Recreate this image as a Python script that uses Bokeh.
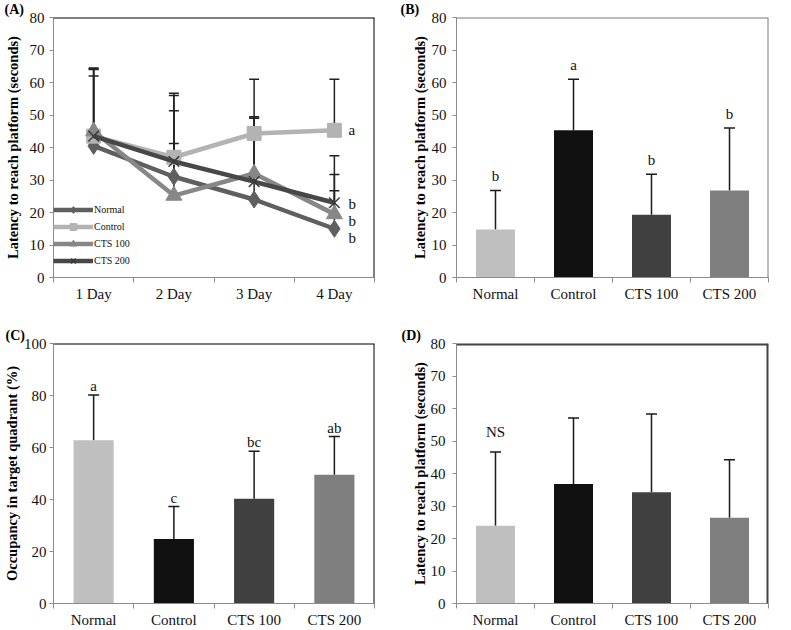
from bokeh.plotting import figure
from bokeh.models import (FixedTicker, Legend, LegendItem, Whisker, TeeHead,
                          ColumnDataSource, Range1d, Span)
from bokeh.layouts import gridplot
from bokeh.core.properties import value
from bokeh.embed import file_html
from bokeh.resources import INLINE

FONT = "Liberation Serif"

# ---------------- data ----------------
days = ["1 Day", "2 Day", "3 Day", "4 Day"]
groups = ["Normal", "Control", "CTS 100", "CTS 200"]

# Panel A: latency per day (mean, upper error-bar end)
a_normal = [40.5, 31.0, 24.0, 15.0]
a_normal_top = [62.0, 51.3, 49.0, 26.7]
a_control = [43.5, 37.0, 44.3, 45.3]
a_control_top = [64.5, 56.7, 61.0, 61.0]
a_cts100 = [45.0, 25.2, 32.0, 19.5]
a_cts100_top = [64.2, 41.2, 49.5, 31.7]
a_cts200 = [43.5, 35.7, 29.5, 23.0]
a_cts200_top = [64.0, 56.0, 49.0, 37.5]
a_sig_text = ["a", "b", "b", "b"]
a_sig_y = [45.3, 22.6, 17.3, 12.2]

# Panel B: latency (probe)
b_mean = [14.8, 45.3, 19.3, 26.8]
b_top = [26.8, 61.0, 31.8, 46.0]
b_sig = ["b", "a", "b", "b"]

# Panel C: occupancy in target quadrant (%)
c_mean = [62.8, 24.8, 40.3, 49.5]
c_top = [80.2, 37.3, 58.6, 64.2]
c_sig = ["a", "c", "bc", "ab"]

# Panel D: latency
d_mean = [23.9, 36.8, 34.2, 26.4]
d_top = [46.6, 57.1, 58.3, 44.2]
d_sig = ["NS", "", "", ""]

line_colors = ["#5f5f5f", "#b3b3b3", "#878787", "#474747"]
bar_colors = ["#bfbfbf", "#111111", "#404040", "#7f7f7f"]

AXIS_GRAY = "#8c8c8c"


def frame_edges(p, xmax, ymax, color, width):
    p.add_layout(Span(location=xmax, dimension="height", line_color=color, line_width=width))
    p.add_layout(Span(location=ymax, dimension="width", line_color=color, line_width=width))


def panel_title(p, text, offset):
    t = p.title
    t.text = text
    t.align = "left"
    t.offset = offset
    t.standoff = 0
    t.text_font = FONT
    t.text_font_size = "14px"
    t.text_font_style = "bold"
    t.text_color = "#000000"
    t.vertical_align = "middle"


def style(p, ylabel, ymax, ystep, labels, frame_color, frame_width, label_standoff, tick_standoff):
    n = len(labels)
    centers = [i + 0.5 for i in range(n)]
    p.xgrid.visible = False
    p.ygrid.visible = False
    p.outline_line_color = None
    p.background_fill_color = "white"
    p.border_fill_color = "white"
    xa = p.xaxis[0]
    xa.ticker = FixedTicker(ticks=centers, minor_ticks=list(range(n + 1)))
    xa.major_label_overrides = {c: l for c, l in zip(centers, labels)}
    xa.major_tick_out = 0
    xa.major_tick_in = 0
    xa.minor_tick_out = 5
    xa.minor_tick_in = 0
    xa.minor_tick_line_color = AXIS_GRAY
    xa.axis_line_color = AXIS_GRAY
    xa.major_label_text_font = FONT
    xa.major_label_text_font_size = "15px"
    xa.major_label_text_color = "#111111"
    xa.major_label_standoff = 3
    ya = p.yaxis[0]
    ya.ticker = FixedTicker(ticks=list(range(0, ymax + 1, ystep)), minor_ticks=[])
    ya.major_tick_out = 4
    ya.major_tick_in = 0
    ya.minor_tick_out = 0
    ya.minor_tick_in = 0
    ya.major_tick_line_color = AXIS_GRAY
    ya.axis_line_color = AXIS_GRAY
    ya.major_label_text_font = FONT
    ya.major_label_text_font_size = "15px"
    ya.major_label_text_color = "#111111"
    ya.major_label_standoff = tick_standoff
    ya.axis_label = ylabel
    ya.axis_label_text_font = FONT
    ya.axis_label_text_font_style = "bold"
    ya.axis_label_text_font_size = "14.5px"
    ya.axis_label_text_color = "#000000"
    ya.axis_label_standoff = label_standoff
    frame_edges(p, n, ymax, frame_color, frame_width)


def bar_panel(width, height, borders, ylabel, ymax, ystep, mean, top, sig, sig_off,
              frame_color, frame_width, label_standoff, tick_standoff):
    l, r, t, b = borders
    p = figure(width=width, height=height, output_backend="svg", toolbar_location=None,
               x_range=Range1d(0, len(groups)), y_range=Range1d(0, ymax),
               min_border_left=l, min_border_right=r, min_border_top=t, min_border_bottom=b)
    xs = [i + 0.5 for i in range(len(groups))]
    src = ColumnDataSource(dict(x=xs, mean=mean, top=top, color=bar_colors, sig=sig))
    p.vbar(x="x", top="mean", bottom=0, width=0.5, fill_color="color", line_color=None, source=src)
    p.add_layout(Whisker(source=src, base="x", lower="mean", upper="top", dimension="height",
                         line_color="#1a1a1a", line_width=1.5, lower_head=None,
                         upper_head=TeeHead(size=11, line_color="#1a1a1a", line_width=1.5)))
    p.text(x="x", y="top", text="sig", source=src, text_font=value(FONT), text_font_size="15px",
           text_align="center", text_baseline="middle", y_offset=sig_off, text_color="#111111")
    style(p, ylabel, ymax, ystep, groups, frame_color, frame_width, label_standoff, tick_standoff)
    return p


# ---------------- Panel A ----------------
pA = figure(width=392, height=318, output_backend="svg", toolbar_location=None,
            x_range=Range1d(0, 4), y_range=Range1d(0, 80),
            min_border_left=50, min_border_right=18, min_border_top=12, min_border_bottom=37)
xs = [i + 0.5 for i in range(len(days))]
series = [
    ("Normal", a_normal, a_normal_top, "diamond", 17),
    ("Control", a_control, a_control_top, "square", 14),
    ("CTS 100", a_cts100, a_cts100_top, "triangle", 16),
    ("CTS 200", a_cts200, a_cts200_top, "x", 15),
]
items = []
for (name, vals, tops, marker, size), col in zip(series, line_colors):
    ln = pA.line(xs, vals, line_color=col, line_width=4.5)
    if marker == "x":
        sc = pA.scatter(xs, vals, marker=marker, size=size, line_color="#3a3a3a", line_width=1.5)
    else:
        sc = pA.scatter(xs, vals, marker=marker, size=size, fill_color=col, line_color=col)
    items.append(LegendItem(label=name, renderers=[ln, sc]))
for (name, vals, tops, marker, size) in series:
    src = ColumnDataSource(dict(x=xs, lo=vals, hi=tops))
    pA.add_layout(Whisker(source=src, base="x", lower="lo", upper="hi", dimension="height",
                          line_color="#222222", line_width=1.5, lower_head=None,
                          upper_head=TeeHead(size=10, line_color="#222222", line_width=1.5)))
pA.text(x=[xs[-1]] * len(a_sig_text), y=a_sig_y, text=a_sig_text, x_offset=14,
        text_font=value(FONT), text_font_size="15px", text_align="left",
        text_baseline="middle", text_color="#111111")
leg = Legend(items=items, location=(0, 8), glyph_width=40, glyph_height=17, label_height=17,
             spacing=0, padding=0, margin=0, border_line_color=None, background_fill_alpha=0,
             label_text_font=FONT, label_text_font_size="10px", label_standoff=1,
             label_text_color="#111111")
pA.add_layout(leg)
style(pA, "Latency to reach platform (seconds)", 80, 10, days, "#000000", 2, 6, 5)
panel_title(pA, "(A)", -49)

# ---------------- Panels B, C, D ----------------
pB = bar_panel(383, 318, (63, 7, 10, 41), "Latency to reach platform (seconds)", 80, 10,
               b_mean, b_top, b_sig, -14, "#7a7a7a", 2, 1, 6)
panel_title(pB, "(B)", -56)
pC = bar_panel(392, 312, (49, 10, 25, 27), "Occupancy in target quadrant (%)", 100, 20,
               c_mean, c_top, c_sig, -9, "#000000", 2, 1, 3)
panel_title(pC, "(C)", -48)
pD = bar_panel(383, 312, (64, 3, 25, 27), "Latency to reach platform (seconds)", 80, 10,
               d_mean, d_top, d_sig, -20, "#444444", 4, 0, 7)
panel_title(pD, "(D)", -55)

grid = gridplot([[pA, pB], [pC, pD]], toolbar_location=None)
open("out.html", "w").write(file_html(grid, INLINE))
